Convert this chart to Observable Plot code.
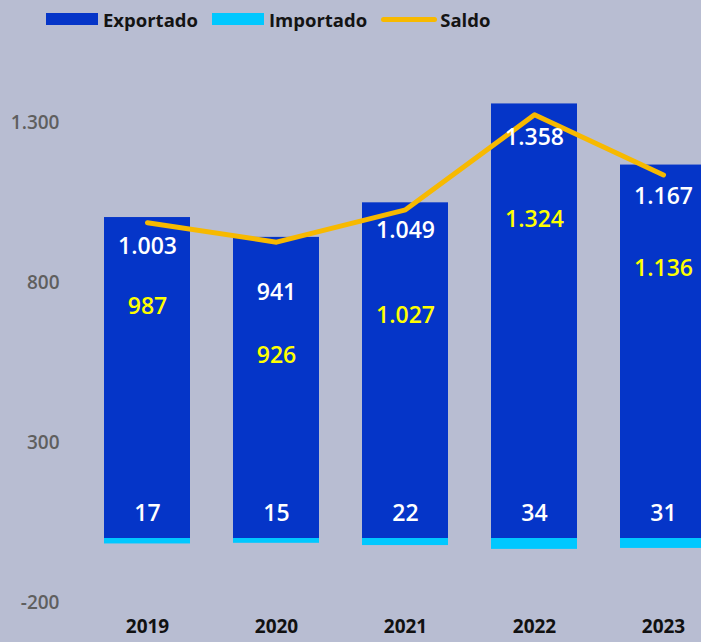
<!DOCTYPE html>
<html><head><meta charset="utf-8">
<script src="https://cdn.jsdelivr.net/npm/d3@7"></script>
<script src="https://cdn.jsdelivr.net/npm/@observablehq/plot@0.6"></script>
<style>
html,body{margin:0;padding:0;background:#b8bdd2;overflow:hidden;}
body{width:701px;height:642px;font-family:"Open Sans",sans-serif;}
#legend{height:38px;display:flex;align-items:center;padding-left:46px;font-weight:700;font-size:18.5px;color:#141414;box-sizing:border-box;}
#legend .sw{display:inline-block;width:52px;height:12px;margin-right:5px;}
#legend .ln{display:inline-block;width:56px;height:5px;border-radius:3px;margin-right:3px;}
#legend .it{display:flex;align-items:center;margin-right:14px;}
#chart svg{display:block;}
</style></head><body>
<div id="legend"></div><div id="chart"></div>
<script>
const years = ["2019", "2020", "2021", "2022", "2023"];
const exportado = [1003, 941, 1049, 1358, 1167];
const importado = [-17, -15, -22, -34, -31];
const saldo = [987, 926, 1027, 1324, 1136];
const yTicks = [-200, 300, 800, 1300];
const seriesNames = ["Exportado", "Importado", "Saldo"];
const seriesColors = ["#0535c8", "#00c8ff", "#f7b900"];

const locale = d3.formatLocale({decimal: ",", thousands: ".", grouping: [3], currency: ["R$", ""], minus: "-"});
const fmt = locale.format(",d");

const rows = years.map((year, i) => ({year, exp: exportado[i], imp: importado[i], saldo: saldo[i]}));

// legend
const legend = document.getElementById("legend");
seriesNames.forEach((name, i) => {
  const it = document.createElement("span");
  it.className = "it";
  const sw = document.createElement("span");
  sw.className = i === 2 ? "ln" : "sw";
  sw.style.background = seriesColors[i];
  it.appendChild(sw);
  it.appendChild(document.createTextNode(name));
  legend.appendChild(it);
});

// label placement offsets (pixels below the value), as positioned in the original
const expLabelDy = {"2019": 29, "2020": 55, "2021": 28, "2022": 34, "2023": 32};
const saldoLabelDy = {"2019": 84, "2020": 113, "2021": 106, "2022": 105, "2023": 94};

const labelMarks = rows.flatMap(r => [
  Plot.text([r], {x: "year", y: "exp", text: d => fmt(d.exp), dy: expLabelDy[r.year], fill: "white", fontSize: 23, fontWeight: 600}),
  Plot.text([r], {x: "year", y: "saldo", text: d => fmt(d.saldo), dy: saldoLabelDy[r.year], fill: "#ffff00", fontSize: 23, fontWeight: 600})
]);

const chart = Plot.plot({
  width: 701, height: 604,
  marginLeft: 65, marginRight: 0, marginTop: 0, marginBottom: 23,
  style: {background: "transparent", fontFamily: "Open Sans", overflow: "hidden"},
  x: {domain: years, range: [81.2, 729.2], paddingInner: 0.335, paddingOuter: 0.1675, label: null},
  y: {domain: [-200, 1300], range: [564, 84], label: null},
  marks: [
    Plot.barY(rows, {x: "year", y1: 0, y2: "exp", fill: seriesColors[0]}),
    Plot.barY(rows, {x: "year", y1: 0, y2: "imp", fill: seriesColors[1]}),
    Plot.line(rows, {x: "year", y: "saldo", stroke: seriesColors[2], strokeWidth: 5, strokeLinecap: "round", strokeLinejoin: "round"}),
    ...labelMarks,
    Plot.text(rows, {x: "year", y: 0, text: d => fmt(-d.imp), dy: -25, fill: "white", fontSize: 23, fontWeight: 600}),
    Plot.axisY({ticks: yTicks, tickFormat: fmt, tickSize: 0, tickPadding: 6, fontSize: 19, fontWeight: 600, fill: "#5f5f5f", label: null}),
    Plot.axisX({tickSize: 0, tickPadding: 0, fontSize: 19, fontWeight: "bold", fill: "#111", label: null})
  ]
});
document.getElementById("chart").appendChild(chart);
</script>
</body></html>
